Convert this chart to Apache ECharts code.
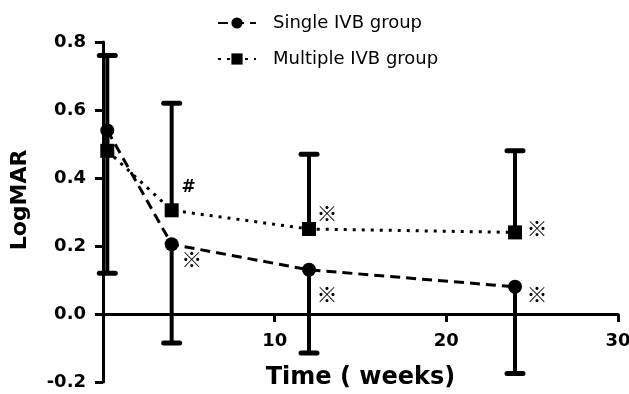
<!DOCTYPE html>
<html>
<head>
<meta charset="utf-8">
<script src="https://cdn.jsdelivr.net/npm/echarts@6/dist/echarts.min.js"></script>
<style>
  html, body { margin: 0; padding: 0; background: #fff; }
  #main { width: 629px; height: 394px; }
</style>
</head>
<body>
<div id="main"></div>
<script>
// data
var weeks = [0.25, 4, 12, 24];
var singleMean = [0.54, 0.205, 0.13, 0.08];
var singleLow = [0.12, -0.085, -0.115, -0.175];
var multipleMean = [0.48, 0.305, 0.25, 0.24];
var multipleHigh = [0.76, 0.62, 0.47, 0.48];
var singleMarks = ['', '※', '※', '※'];
var multipleMarks = ['', '#', '※', '※'];
var xTicks = [0, 10, 20, 30];

// where the significance marks sit next to each point (px)
var singleMarkOffset = [[0, 0], [20, 15], [18, 24], [22, 7]];
var multipleMarkOffset = [[0, 0], [17, -23], [18, -16], [22, -4]];

var FONT = 'DejaVu Sans';

function pointData(means, marks, offsets) {
  return means.map(function (v, i) {
    return {
      value: [weeks[i], v],
      label: {
        show: marks[i] !== '',
        formatter: marks[i],
        position: 'inside',
        offset: offsets[i],
        color: '#000',
        fontFamily: marks[i] === '#' ? FONT : 'Noto Sans CJK SC',
        fontWeight: 'bold',
        fontSize: marks[i] === '#' ? 17 : 21
      }
    };
  });
}

function barData(means, ends) {
  return means.map(function (v, i) { return [weeks[i], v, ends[i]]; });
}

function renderErrorBar(params, api) {
  var x = api.value(0);
  var p0 = api.coord([x, api.value(1)]);
  var p1 = api.coord([x, api.value(2)]);
  var half = 8;
  return {
    type: 'group',
    children: [
      {
        type: 'line',
        shape: { x1: p0[0], y1: p0[1], x2: p1[0], y2: p1[1] },
        style: { stroke: '#000', lineWidth: 4 }
      },
      {
        type: 'line',
        shape: { x1: p1[0] - half, y1: p1[1], x2: p1[0] + half, y2: p1[1] },
        style: { stroke: '#000', lineWidth: 5, lineCap: 'round' }
      }
    ]
  };
}

var labelStyle = { fontFamily: FONT, fontSize: 18, fontWeight: 'bold', color: '#000' };

var chart = echarts.init(document.getElementById('main'));
var option = {
  animation: false,
  backgroundColor: '#fff',
  grid: [
    // plot area, -0.2 .. 0.8
    { left: 103, right: 11, top: 42, bottom: 12, containLabel: false, outerBoundsMode: 'none' },
    // same width, ends at the zero line: carries the week labels and title
    { left: 103, right: 11, top: 42, bottom: 80, containLabel: false, outerBoundsMode: 'none' }
  ],
  legend: {
    data: ['Single IVB group', 'Multiple IVB group'],
    orient: 'vertical',
    left: 212,
    top: 9,
    itemWidth: 38,
    itemHeight: 14,
    itemGap: 18,
    textStyle: { fontFamily: FONT, fontSize: 18, color: '#000', padding: [0, 0, 0, 12] }
  },
  xAxis: [
    {
      type: 'value',
      gridIndex: 0,
      min: 0,
      max: 30,
      interval: 10,
      axisLine: { onZero: true, lineStyle: { color: '#000', width: 3 } },
      axisTick: { length: 8, lineStyle: { color: '#000', width: 3 } },
      axisLabel: { show: false },
      splitLine: { show: false }
    },
    {
      type: 'value',
      gridIndex: 1,
      min: 0,
      max: 30,
      interval: 10,
      name: 'Time ( weeks)',
      nameLocation: 'middle',
      nameGap: 52,
      nameTextStyle: { fontFamily: FONT, fontSize: 24, fontWeight: 'bold', color: '#000' },
      axisLine: { show: false },
      axisTick: { show: false },
      axisLabel: Object.assign({
        margin: 18,
        formatter: function (v) { return xTicks.indexOf(v) > 0 ? String(v) : ''; }
      }, labelStyle),
      splitLine: { show: false }
    }
  ],
  yAxis: [
    {
      type: 'value',
      gridIndex: 0,
      min: -0.2,
      max: 0.8,
      interval: 0.2,
      name: 'LogMAR',
      nameLocation: 'middle',
      nameGap: 72,
      nameTextStyle: { fontFamily: FONT, fontSize: 22, fontWeight: 'bold', color: '#000', padding: [0, 0, 0, 24] },
      axisLine: { onZero: false, lineStyle: { color: '#000', width: 3 } },
      axisTick: { length: 8, lineStyle: { color: '#000', width: 3 } },
      axisLabel: Object.assign({
        margin: 17,
        formatter: function (v) { return v.toFixed(1); }
      }, labelStyle),
      splitLine: { show: false }
    },
    {
      type: 'value',
      gridIndex: 1,
      min: 0,
      max: 1,
      show: false
    }
  ],
  series: [
    {
      name: 'Single IVB error',
      type: 'custom',
      renderItem: renderErrorBar,
      encode: { x: 0, y: [1, 2] },
      data: barData(singleMean, singleLow),
      z: 1
    },
    {
      name: 'Multiple IVB error',
      type: 'custom',
      renderItem: renderErrorBar,
      encode: { x: 0, y: [1, 2] },
      data: barData(multipleMean, multipleHigh),
      z: 1
    },
    {
      name: 'Single IVB group',
      type: 'line',
      data: pointData(singleMean, singleMarks, singleMarkOffset),
      symbol: 'circle',
      symbolSize: 14,
      lineStyle: { color: '#000', width: 3, type: [10, 6] },
      itemStyle: { color: '#000' },
      z: 3
    },
    {
      name: 'Multiple IVB group',
      type: 'line',
      data: pointData(multipleMean, multipleMarks, multipleMarkOffset),
      symbol: 'rect',
      symbolSize: 14,
      lineStyle: { color: '#000', width: 3, type: [3, 6] },
      itemStyle: { color: '#000' },
      z: 3
    }
  ]
};
chart.setOption(option);
</script>
</body>
</html>
